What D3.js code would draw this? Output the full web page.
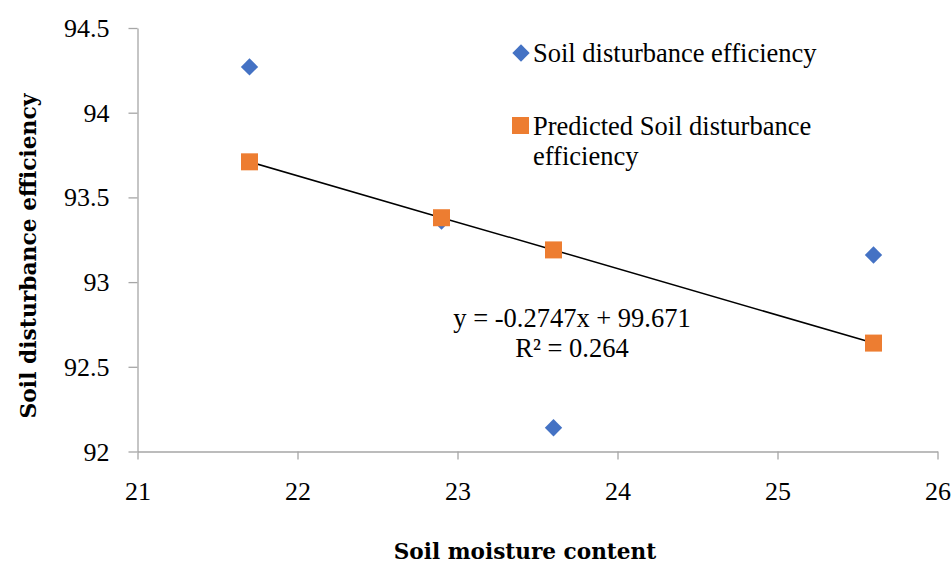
<!DOCTYPE html>
<html>
<head>
<meta charset="utf-8">
<script src="https://cdn.jsdelivr.net/npm/d3@7"></script>
<style>
  html, body { margin: 0; padding: 0; background: #fff; }
  svg { display: block; }
</style>
</head>
<body>
<script>
const moisture = [21.7, 22.9, 23.6, 25.6];
const observed = [94.27, 93.36, 92.14, 93.16];
const predicted = [93.71, 93.38, 93.19, 92.64];
const xTicks = [21, 22, 23, 24, 25, 26];
const yTicks = [92, 92.5, 93, 93.5, 94, 94.5];
const seriesNames = ["Soil disturbance efficiency", "Predicted Soil disturbance", "efficiency"];
const equationLines = ["y = -0.2747x + 99.671", "R\u00B2 = 0.264"];
const xTitle = "Soil moisture content";
const yTitle = "Soil disturbance efficiency";

const W = 952, H = 563;
const svg = d3.select("body").append("svg").attr("width", W).attr("height", H);

const x = d3.scaleLinear().domain([21, 26]).range([137.5, 937.5]);
const y = d3.scaleLinear().domain([92, 94.5]).range([451.5, 28]);

const serif = '"Liberation Serif", serif';
const titleFont = '"DejaVu Serif", serif';
const axisColor = "#a6a6a6";

// X axis
const xAxis = svg.append("g").attr("transform", `translate(0,${y(92)})`)
  .call(d3.axisBottom(x).tickValues(xTicks).tickFormat(d3.format("d")).tickSize(8).tickSizeOuter(0));
xAxis.attr("font-family", null);
xAxis.select(".domain").attr("stroke", axisColor).attr("stroke-width", 1.3);
xAxis.selectAll(".tick line").attr("stroke", axisColor).attr("stroke-width", 1.3);
xAxis.selectAll(".tick text").style("font-family", serif).style("font-size", "26px").attr("fill", "#000").attr("dy", 0).attr("y", 48);

// Y axis
const yAxis = svg.append("g").attr("transform", `translate(${x(21)},0)`)
  .call(d3.axisLeft(y).tickValues(yTicks).tickFormat(d => String(d)).tickSize(9).tickSizeOuter(0));
yAxis.attr("font-family", null);
yAxis.select(".domain").attr("stroke", axisColor).attr("stroke-width", 1.3);
yAxis.selectAll(".tick line").attr("stroke", axisColor).attr("stroke-width", 1.3);
yAxis.selectAll(".tick text").style("font-family", serif).style("font-size", "26px").attr("fill", "#000").attr("x", -28).attr("dy", "0.33em");

// trendline through predicted points
const pts = moisture.map((m, i) => ({ m, o: observed[i], p: predicted[i] }));
svg.append("path")
  .datum(pts)
  .attr("d", d3.line().x(d => x(d.m)).y(d => y(d.p)))
  .attr("fill", "none").attr("stroke", "#000").attr("stroke-width", 1.5);

const diamond = d3.symbol().type(d3.symbolSquare).size(150);
// observed (diamonds)
svg.append("g").selectAll("path").data(pts).join("path")
  .attr("d", diamond)
  .attr("transform", d => `translate(${x(d.m)},${y(d.o)}) rotate(45)`)
  .attr("fill", "#4472C4");

// predicted (squares)
svg.append("g").selectAll("rect").data(pts).join("rect")
  .attr("x", d => x(d.m) - 8.5).attr("y", d => y(d.p) - 8.5)
  .attr("width", 17).attr("height", 17)
  .attr("fill", "#ED7D31");

// Legend
const lg = svg.append("g");
lg.append("path").attr("d", diamond())
  .attr("transform", "translate(521,53) rotate(45)").attr("fill", "#4472C4");
lg.append("text").attr("x", 533).attr("y", 62).text(seriesNames[0])
  .style("font-family", serif).style("font-size", "26.5px").attr("fill", "#000");
lg.append("rect").attr("x", 512).attr("y", 117).attr("width", 17).attr("height", 17).attr("fill", "#ED7D31");
lg.append("text").attr("x", 533).attr("y", 135).text(seriesNames[1])
  .style("font-family", serif).style("font-size", "26.5px").attr("fill", "#000");
lg.append("text").attr("x", 533).attr("y", 165).text(seriesNames[2])
  .style("font-family", serif).style("font-size", "26.5px").attr("fill", "#000");

// Equation
svg.append("g").selectAll("text").data(equationLines).join("text")
  .attr("x", 572).attr("y", (d, i) => 327 + i * 30)
  .attr("text-anchor", "middle")
  .style("font-family", serif).style("font-size", "26.5px").attr("fill", "#000")
  .text(d => d);

// Axis titles
svg.append("text").attr("x", 525).attr("y", 559).attr("text-anchor", "middle")
  .style("font-family", titleFont).style("font-weight", "bold").style("font-size", "21.6px").attr("fill", "#000")
  .text(xTitle);
svg.append("text").attr("transform", "translate(36,256) rotate(-90)").attr("text-anchor", "middle")
  .style("font-family", titleFont).style("font-weight", "bold").style("font-size", "21.8px").attr("fill", "#000")
  .text(yTitle);
</script>
</body>
</html>
